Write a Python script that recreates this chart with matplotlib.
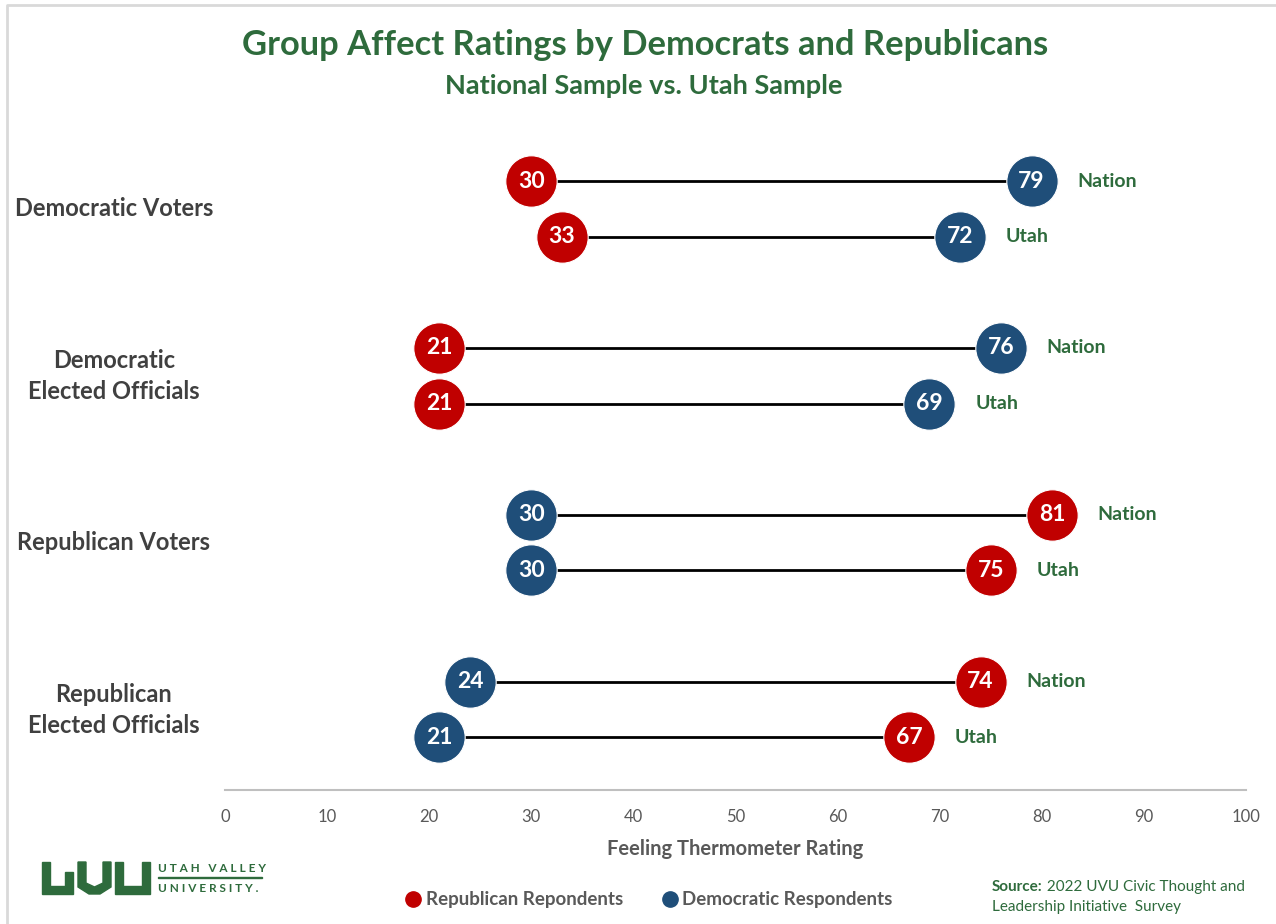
import numpy as np
import matplotlib.pyplot as plt
from matplotlib.lines import Line2D
from matplotlib.patches import Polygon, Rectangle

plt.rcParams['font.family'] = ['Lato', 'DejaVu Sans']

# ratings on the 0-100 feeling thermometer
groups = ['Democratic Voters', 'Democratic\nElected Officials',
          'Republican Voters', 'Republican\nElected Officials']
samples = ['Nation', 'Utah']
rep_nation = [30, 21, 81, 74]
rep_utah = [33, 21, 75, 67]
dem_nation = [79, 76, 30, 24]
dem_utah = [72, 69, 30, 21]

RED = '#C00000'
BLUE = '#1F4E79'
GREEN = '#2E6B3C'
GRAY = '#595959'

fig = plt.figure(figsize=(12.76, 9.24), dpi=100)
ax = fig.add_axes([225 / 1276, 134 / 924, 1021 / 1276, 670 / 924])

rep = [rep_nation, rep_utah]
dem = [dem_nation, dem_utah]
for g in range(len(groups)):
    for s in range(2):
        y = -3 * g - s
        r = rep[s][g]
        d = dem[s][g]
        ax.plot([r, d], [y, y], color='black', lw=2, zorder=1)
        for v, c in ((r, RED), (d, BLUE)):
            ax.plot(v, y, 'o', ms=37, color=c, mec='white', mew=0.8, zorder=2)
            ax.text(v, y, str(v), ha='center', va='center', color='white',
                    fontsize=16.5, fontweight='bold', zorder=3)
        ax.annotate(samples[s], xy=(max(r, d), y), xytext=(33, 0),
                    textcoords='offset points', ha='left', va='center',
                    color=GREEN, fontsize=14, fontweight='bold')
    fig.text(114 / 1276, 1 - (209 + 167 * g) / 924, groups[g], ha='center',
             va='center', fontsize=17, fontweight='bold', color='#404040',
             linespacing=1.4)

ax.set_xlim(0, 100)
ax.set_ylim(-10.95, 1.1)
ax.set_xticks(range(0, 101, 10))
ax.set_yticks([])
ax.tick_params(axis='x', length=0, pad=14, labelsize=12, labelcolor=GRAY)
for sp in ['top', 'right', 'left']:
    ax.spines[sp].set_visible(False)
ax.spines['bottom'].set_color('#BFBFBF')
ax.spines['bottom'].set_linewidth(1.5)
ax.set_xlabel('Feeling Thermometer Rating', fontsize=14.5, fontweight='bold',
              color=GRAY, labelpad=10)

fig.text(645 / 1276, 1 - 45 / 924,
         'Group Affect Ratings by Democrats and Republicans',
         ha='center', va='center', fontsize=24.8, fontweight='bold', color=GREEN)
fig.text(644 / 1276, 1 - 86 / 924, 'National Sample vs. Utah Sample',
         ha='center', va='center', fontsize=19.5, fontweight='bold', color=GREEN)

# legend
handles = [Line2D([], [], ls='', marker='o', ms=11, color=RED),
           Line2D([], [], ls='', marker='o', ms=11, color=BLUE)]
leg = fig.legend(handles, ['Republican Repondents', 'Democratic Respondents'],
                 loc='center', bbox_to_anchor=(650 / 1276, 1 - 900 / 924),
                 ncol=2, frameon=False, fontsize=13.5, handlelength=0.6,
                 handletextpad=0.35, columnspacing=2.2)
for t in leg.get_texts():
    t.set_color(GRAY)
    t.set_fontweight('bold')

# overlay in pixel units for the frame, logo and source note
ov = fig.add_axes([0, 0, 1, 1], zorder=-1)
ov.set_xlim(0, 1276)
ov.set_ylim(924, 0)
ov.axis('off')
ov.plot([7, 7, 1276], [924, 5, 5], color='#D9D9D9', lw=2)

u1 = Polygon([(42, 862), (50, 862), (50, 886), (65, 886), (65, 872),
              (73, 872), (73, 894), (42, 894)], color=GREEN)
v = Polygon([(78, 862), (86, 862), (86, 883), (94.5, 887), (103, 883),
             (103, 862), (111, 862), (111, 887), (100, 894), (89, 894),
             (78, 887)], color=GREEN)
u2 = Polygon([(115, 862), (123, 862), (123, 886), (142, 886), (142, 862),
              (150, 862), (150, 894), (115, 894)], color=GREEN)
for p in (u1, v, u2):
    ov.add_patch(p)
ov.text(158, 869, 'U T A H   V A L L E Y', fontsize=8.5, fontweight='bold',
        color=GREEN, ha='left', va='center')
ov.add_patch(Rectangle((158, 876.5), 104, 1.6, color=GREEN))
ov.text(158, 888, 'U N I V E R S I T Y .', fontsize=8.5, fontweight='bold',
        color=GREEN, ha='left', va='center')

src = ov.text(992, 887, 'Source:', fontsize=11, fontweight='bold',
              color=GREEN, ha='left', va='center')
ov.annotate(' 2022 UVU Civic Thought and', xy=(1, 0.5), xycoords=src,
            ha='left', va='center', fontsize=11, color=GREEN)
ov.text(992, 907, 'Leadership Initiative  Survey', fontsize=11,
        color=GREEN, ha='left', va='center')

fig.savefig('out.png', dpi=100)
